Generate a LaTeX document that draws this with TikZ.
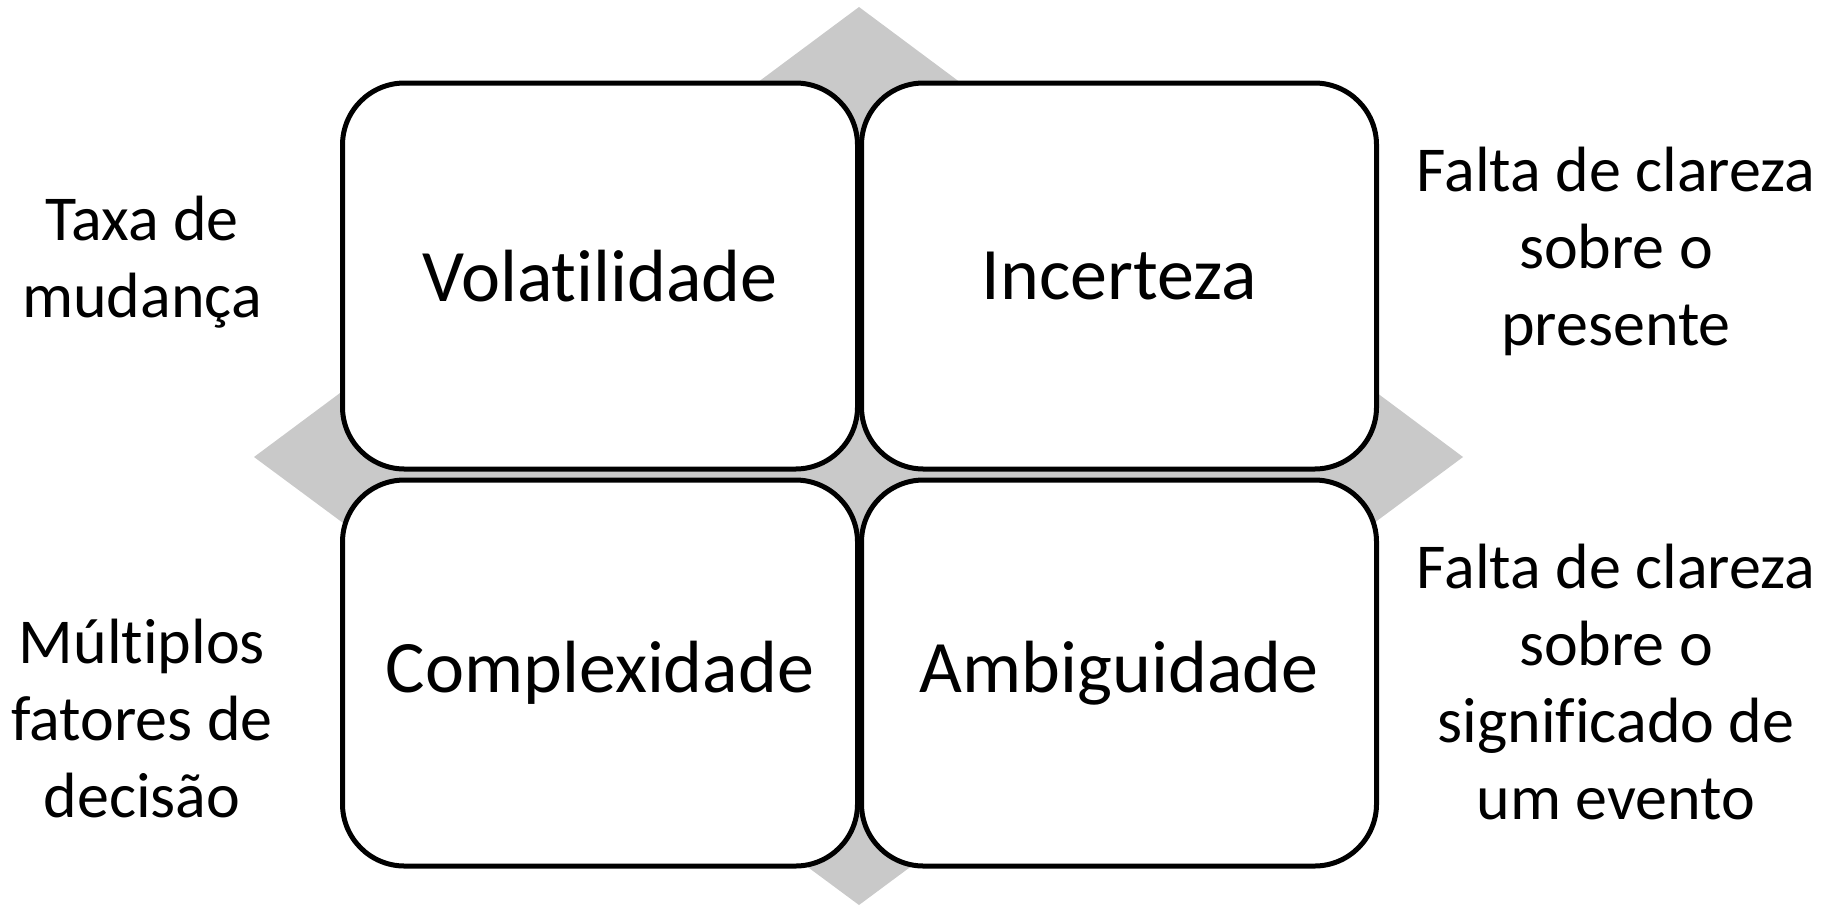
\documentclass[tikz,border=0pt]{standalone}
\usepackage{fontspec}
\setmainfont{Carlito}[Ligatures=CommonOff]
\usetikzlibrary{positioning}
\definecolor{diamondgray}{RGB}{201,201,201}
\tikzstyle{quadrant} = [draw, line width=2.5pt, fill=white, rounded corners=31pt, minimum width=257.5pt, minimum height=193pt, font=\fontsize{37}{44}\selectfont]
\tikzstyle{note} = [align=center, font=\fontsize{32}{38.5}\selectfont]

\begin{document}
\begin{tikzpicture}[x=0.5pt, y=-0.5pt]
\useasboundingbox (0,0) rectangle (1823,906);
%\draw (0,0) rectangle (1823,906);
   \fill[diamondgray] (859,7) -- (1463,457) -- (859,905) -- (254,457) -- cycle;

   \node (Volatility) at (600, 276) [quadrant] {Volatilidade};
   \node (Uncertainty) at (1119, 276) [quadrant] {Incerteza};
   \node (Complexity) at (600, 673) [quadrant] {Complexidade};
   \node (Ambiguity) at (1119, 673) [quadrant] {Ambiguidade};

   \node (RateNote) at (142, 262) [note] {Taxa de\\mudança};
   \node (FactorsNote) at (142, 718) [note] {Múltiplos\\fatores de\\decisão};
   \node (PresentNote) at (1616, 251) [note] {Falta de clareza\\sobre o\\presente};
   \node (MeaningNote) at (1616, 682) [note] {Falta de clareza\\sobre o\\significado de\\um evento};

\end{tikzpicture}
\end{document}
